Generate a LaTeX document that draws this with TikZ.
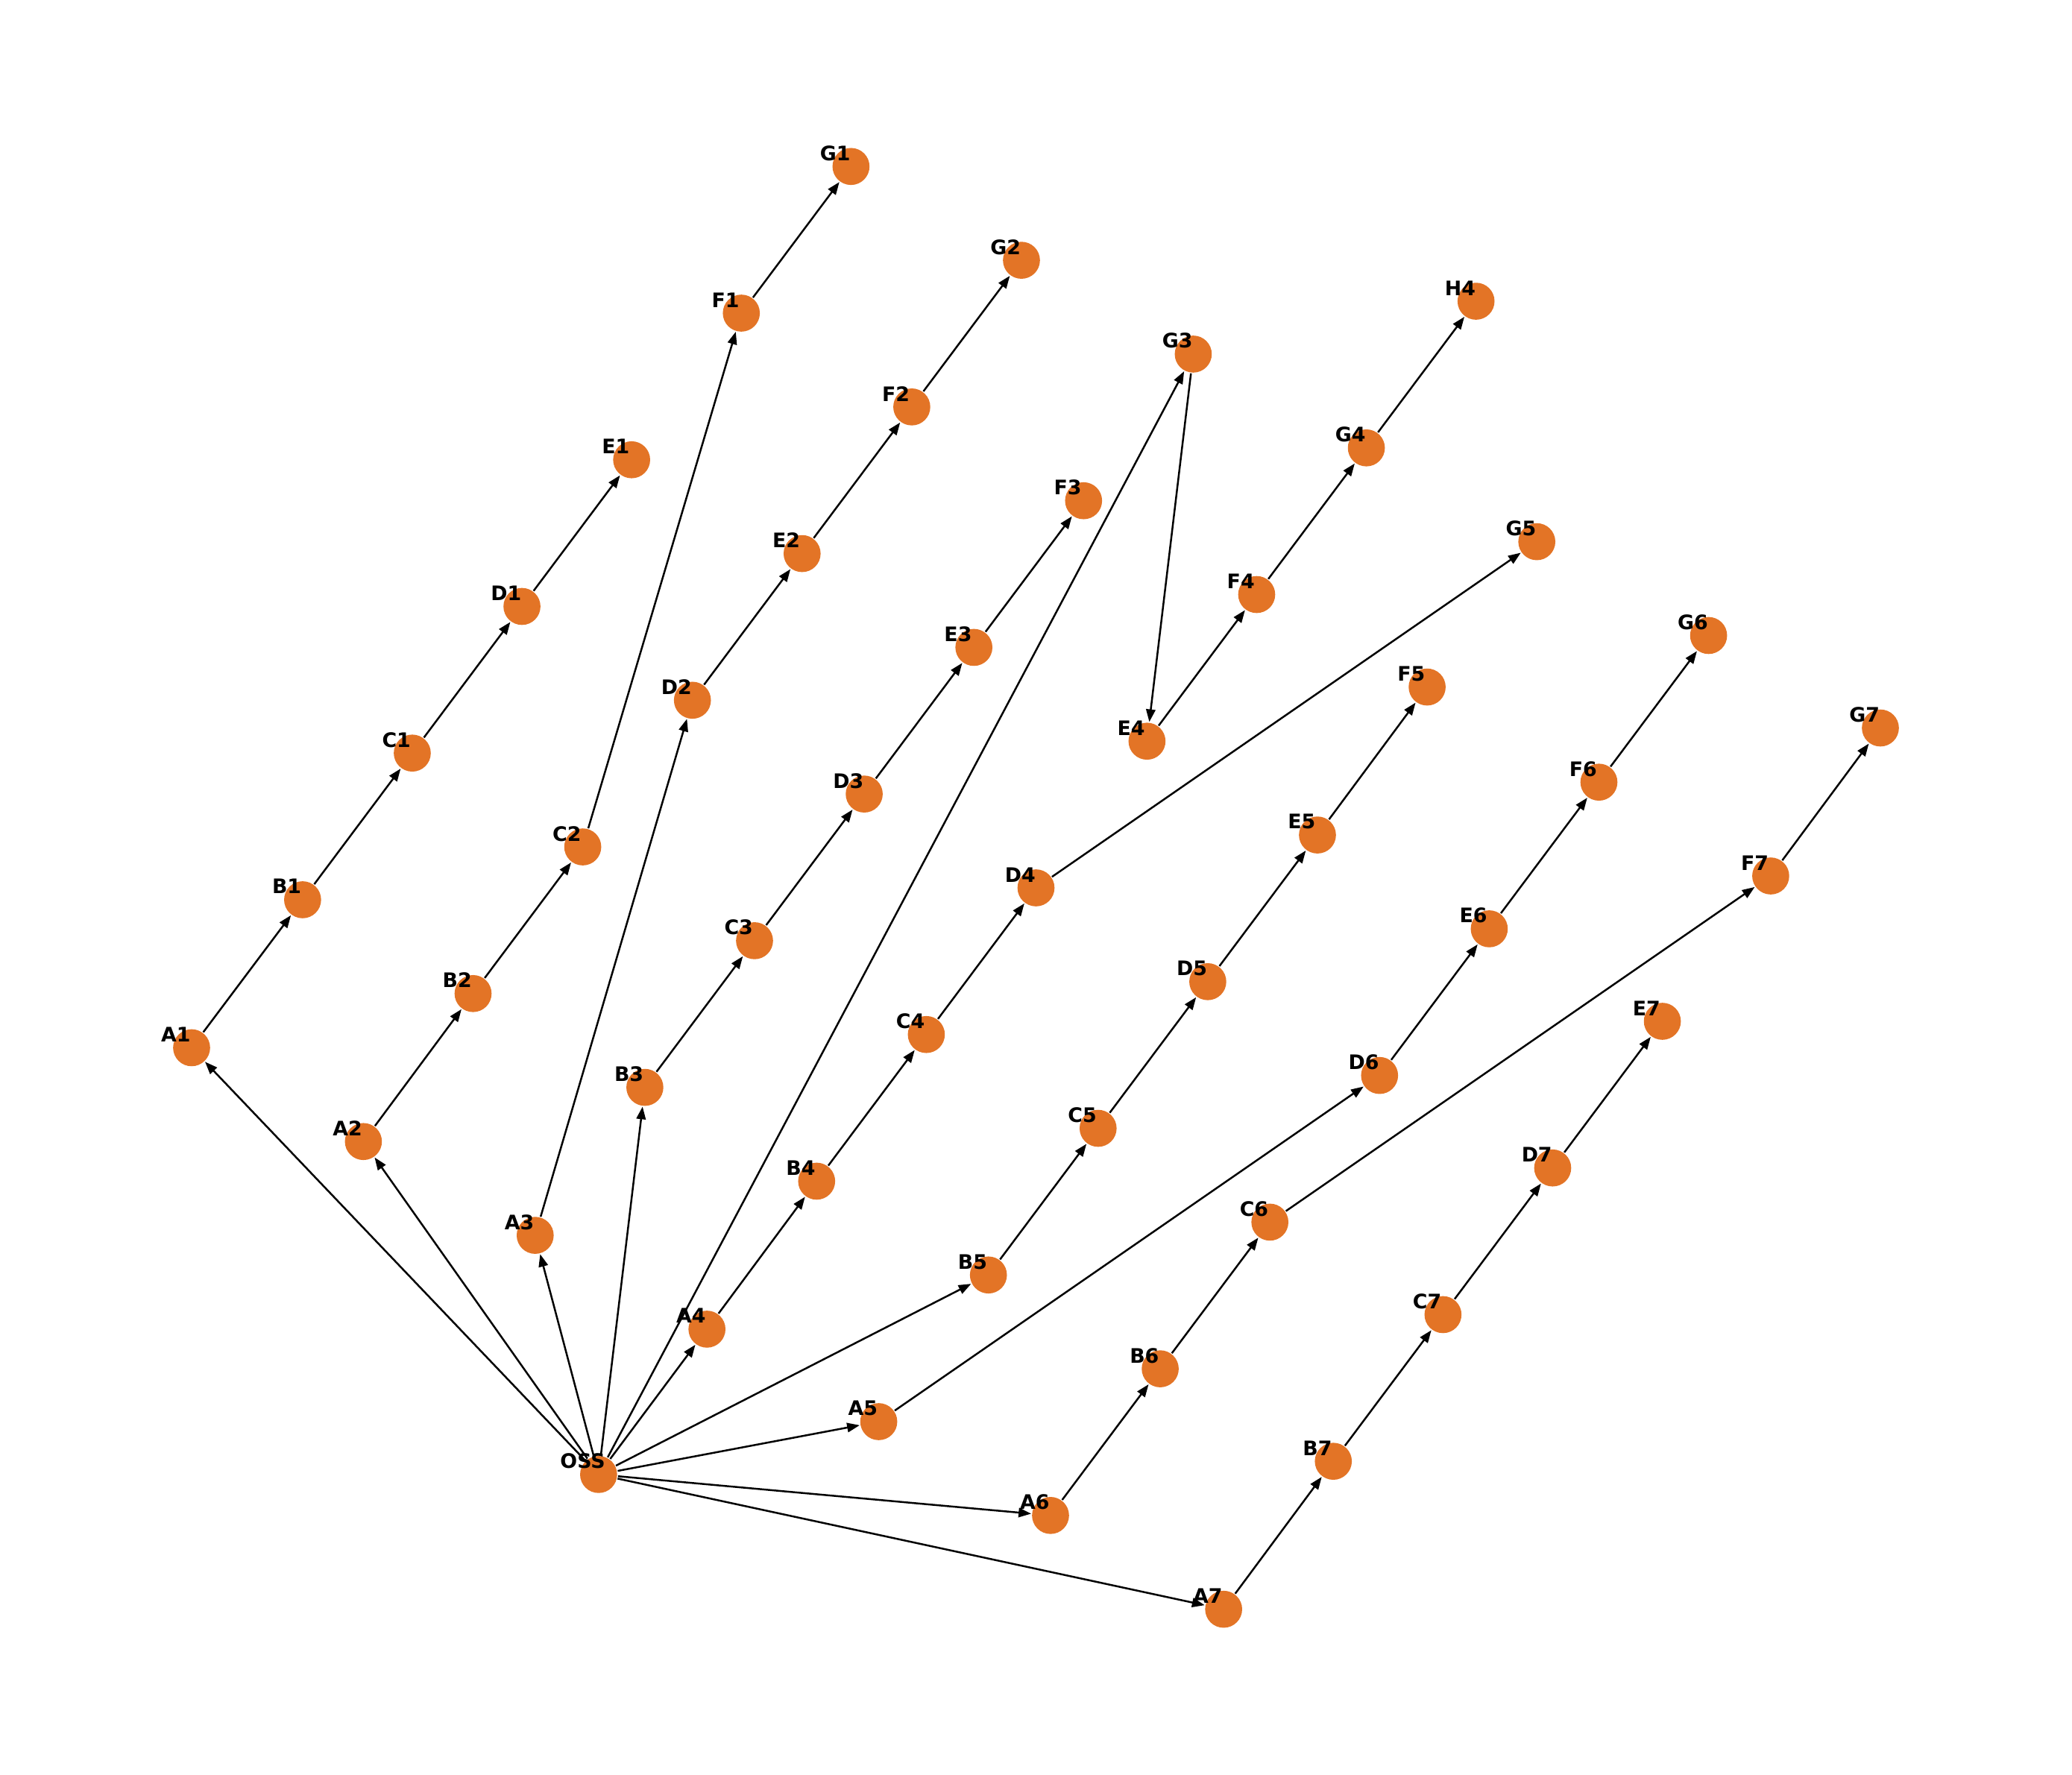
\documentclass[tikz,border=0pt]{standalone}
\usepackage{fontspec}
\setmainfont{DejaVu Sans}
\usetikzlibrary{arrows.meta}
\definecolor{nodeorange}{RGB}{227,116,38}
\begin{document}
\begin{tikzpicture}[x=0.01cm,y=-0.01cm]
\tikzset{dot/.style={circle,fill=nodeorange,minimum size=0.28cm,inner sep=0pt},
    lbl/.style={font=\fontsize{4.3}{5}\selectfont\bfseries,inner sep=0pt,xshift=-0.12cm,yshift=0.1cm},
    edge/.style={line width=0.4pt,-{Triangle[length=2.7pt,width=2pt]}}}
\useasboundingbox (0,0) rectangle (1568,1343);
% nodes
\foreach \n/\x/\y in {OSS/453/1116,
    A1/145/793, B1/229/681, C1/312/570, D1/395/459, E1/478/348,
    A2/275/864, B2/358/752, C2/441/641, F1/561/237, G1/644/126,
    A3/405/935, D2/524/530, E2/607/419, F2/690/308, G2/773/197,
    B3/488/823, C3/571/712, D3/654/601, E3/737/490, F3/820/379,
    A4/535/1006, B4/618/894, C4/701/783, D4/784/672, G5/1163/410,
    G3/903/268, E4/868/561, F4/951/450, G4/1034/339, H4/1117/228,
    B5/748/965, C5/831/854, D5/914/743, E5/997/632, F5/1080/520,
    A5/665/1076, D6/1044/814, E6/1127/703, F6/1210/592, G6/1293/481,
    A6/795/1147, B6/878/1036, C6/961/925, F7/1340/663, G7/1423/551,
    A7/926/1218, B7/1009/1106, C7/1092/995, D7/1175/884, E7/1258/773}
{
    \node[dot,label={[lbl]center:\n}] (\n) at (\x,\y) {};
}
% edges
\foreach \a/\b in {OSS/A1, OSS/A2, OSS/A3, OSS/B3, OSS/G3, OSS/A4,
    OSS/B5, OSS/A5, OSS/A6, OSS/A7,
    A1/B1, B1/C1, C1/D1, D1/E1,
    A2/B2, B2/C2, C2/F1, F1/G1,
    A3/D2, D2/E2, E2/F2, F2/G2,
    B3/C3, C3/D3, D3/E3, E3/F3,
    A4/B4, B4/C4, C4/D4, D4/G5,
    G3/E4, E4/F4, F4/G4, G4/H4,
    B5/C5, C5/D5, D5/E5, E5/F5,
    A5/D6, D6/E6, E6/F6, F6/G6,
    A6/B6, B6/C6, C6/F7, F7/G7,
    A7/B7, B7/C7, C7/D7, D7/E7}
{
    \draw[edge] (\a) -- (\b);
}
\end{tikzpicture}
\end{document}
